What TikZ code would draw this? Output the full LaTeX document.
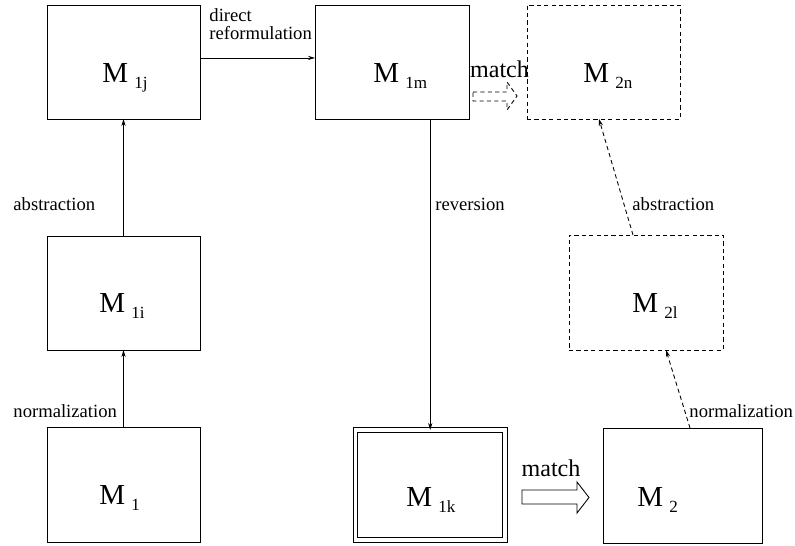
\documentclass[tikz,border=0pt]{standalone}
\usepackage{fontspec}
\setmainfont{Liberation Serif}
\usetikzlibrary{arrows.meta}

\newcommand{\lblsize}{\fontsize{10.6pt}{10.3pt}\selectfont}
\newcommand{\subsize}{\fontsize{9.7pt}{11pt}\selectfont}
\newcommand{\msub}[1]{M\hspace{3.5pt}\raisebox{-3.4pt}{\subsize #1}}

\begin{document}
\begin{tikzpicture}[x=0.02cm, y=-0.02cm, line width=0.5pt,
    mbox/.style={draw, rectangle, inner sep=0pt, outer sep=0pt},
    dashbox/.style={mbox, dash pattern=on 2.4pt off 1.8pt},
    dblbox/.style={mbox, double, double distance=2.2pt},
    mtxt/.style={anchor=base west, inner sep=0pt, font=\fontsize{16.5pt}{18pt}\selectfont},
    lbl/.style={anchor=base west, inner sep=0pt, font=\lblsize},
    matchlbl/.style={anchor=base, inner sep=0pt, font=\fontsize{13.7pt}{15pt}\selectfont},
    arr/.style={-{Stealth[length=4pt,width=2.4pt]}},
    dasharr/.style={arr, dash pattern=on 2.4pt off 1.8pt}]
    \useasboundingbox (0,0) rectangle (795,546);
    % the models
    \foreach \nm/\x/\y/\w/\h/\kind in {M1j/123.5/62/3.06/2.28/mbox, M1m/392/62/3.08/2.28/mbox,
        M2n/603.5/62/3.06/2.28/dashbox, M1i/123.5/293/3.06/2.28/mbox, M2l/646/292.5/3.08/2.30/dashbox,
        M1/123.5/484.5/3.06/2.30/mbox, M1k/430.25/485/2.99/2.20/dblbox, M2/682.5/485.5/3.18/2.30/mbox}
        {\node[\kind, minimum width=\w cm, minimum height=\h cm] (\nm) at (\x,\y) {};}
    \foreach \nm/\x/\y/\sb in {M1j/102/83/1j, M1m/373/83/1m, M2n/583/83/2n, M1i/99/313/1i,
        M2l/632/313/2l, M1/99/505/1, M1k/406/507/1k, M2/637/507/2}
        {\node[mtxt] (t\nm) at (\x,\y) {\msub{\sb}};}
    % transformations
    \draw[arr] (M1) -- (M1i);
    \draw[arr] (M1i) -- (M1j);
    \draw[arr] ([yshift=2.3pt]M1j.east) -- ([yshift=2.3pt]M1m.west);
    \draw[arr] (M1m.south -| M1k.north) -- (M1k.north);
    \draw[dasharr] ([xshift=0.15cm]M2.north) -- ([xshift=0.4cm]M2l.south);
    \draw[dasharr] ([xshift=-0.26cm]M2l.north) -- ([xshift=-0.09cm]M2n.south);
    \node[lbl] (lNorm1) at (13,418) {normalization};
    \node[lbl] (lAbs1) at (13,211) {abstraction};
    \node[lbl, anchor=north west, align=left] (lDirect) at (209,8) {direct\\reformulation};
    \node[lbl] (lRev) at (435,211) {reversion};
    \node[lbl] (lAbs2) at (632,211) {abstraction};
    \node[lbl] (lNorm2) at (689,418) {normalization};
    % match arrows
    \draw[dash pattern=on 2.4pt off 1.8pt] (473,92) -- (507,92) -- (507,82) -- (517,96)
        -- (507,110) -- (507,101) -- (473,101) -- cycle;
    \node[matchlbl] (lMatch1) at (499.5,78) {match};
    \draw (522,490) -- (577,490) -- (577,482) -- (589,497.5) -- (577,513) -- (577,504)
        -- (522,504) -- cycle;
    \node[matchlbl] (lMatch2) at (551,477) {match};
\end{tikzpicture}
\end{document}
